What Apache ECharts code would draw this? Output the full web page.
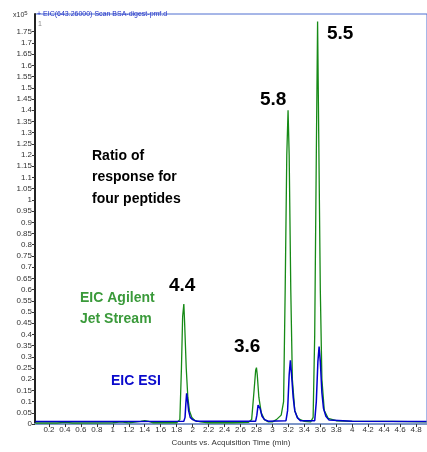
<!DOCTYPE html>
<html>
<head>
<meta charset="utf-8">
<script src="https://cdn.jsdelivr.net/npm/echarts@6/dist/echarts.min.js"></script>
<style>
html,body{margin:0;padding:0;background:#fff;}
#chart{width:427px;height:452px;}
</style>
</head>
<body>
<div id="chart"></div>
<script>
// Acquisition time (min) and counts (x10^5)
const jetTime = [0.03,0.30,0.40,0.50,1.00,1.10,1.20,1.35,1.40,1.45,1.50,1.80,1.84,1.86,1.875,1.89,1.90,1.92,1.94,1.96,1.99,2.03,2.10,2.20,2.50,2.70,2.74,2.77,2.79,2.80,2.81,2.83,2.86,2.90,2.95,3.00,3.05,3.08,3.11,3.14,3.16,3.18,3.196,3.21,3.23,3.25,3.28,3.32,3.40,3.48,3.51,3.53,3.55,3.566,3.58,3.60,3.62,3.65,3.70,3.80,4.00,4.50,4.93];
const jetCounts = [0.005,0.005,0.008,0.005,0.006,0.010,0.005,0.012,0.015,0.012,0.006,0.006,0.020,0.250,0.480,0.535,0.450,0.250,0.120,0.060,0.030,0.015,0.010,0.006,0.006,0.008,0.020,0.150,0.240,0.252,0.220,0.120,0.050,0.020,0.010,0.010,0.020,0.030,0.040,0.100,0.600,1.200,1.400,1.200,0.600,0.200,0.060,0.025,0.012,0.010,0.030,0.400,1.200,1.796,1.300,0.600,0.200,0.060,0.025,0.015,0.012,0.012,0.010];

const esiTime = [0.03,0.38,0.40,0.42,1.00,1.89,1.905,1.915,1.925,1.935,1.95,1.97,2.00,2.05,2.79,2.805,2.82,2.83,2.845,2.87,2.90,2.95,3.17,3.19,3.21,3.225,3.24,3.26,3.28,3.31,3.35,3.53,3.55,3.57,3.585,3.60,3.62,3.64,3.67,3.71,4.00,4.93];
const esiCounts = [0.012,0.012,0.020,0.012,0.012,0.013,0.030,0.090,0.137,0.110,0.060,0.030,0.020,0.013,0.013,0.040,0.085,0.092,0.070,0.035,0.020,0.013,0.015,0.060,0.220,0.285,0.220,0.120,0.060,0.030,0.015,0.015,0.100,0.280,0.346,0.280,0.140,0.070,0.035,0.018,0.013,0.012];

const yTicks = [0,0.05,0.1,0.15,0.2,0.25,0.3,0.35,0.4,0.45,0.5,0.55,0.6,0.65,0.7,0.75,0.8,0.85,0.9,0.95,1,1.05,1.1,1.15,1.2,1.25,1.3,1.35,1.4,1.45,1.5,1.55,1.6,1.65,1.7,1.75];
const xTicks = [0.2,0.4,0.6,0.8,1,1.2,1.4,1.6,1.8,2,2.2,2.4,2.6,2.8,3,3.2,3.4,3.6,3.8,4,4.2,4.4,4.6,4.8];

const zip = (a, b) => a.map((v, i) => [v, b[i]]);
const FONT = '"Liberation Sans", Arial, sans-serif';

const chart = echarts.init(document.getElementById('chart'), null, {renderer: 'canvas'});
chart.setOption({
  animation: false,
  backgroundColor: '#fff',
  grid: {left: 35, right: 0, top: 14, bottom: 17.5, show: true, borderColor: '#4f6fd0', borderWidth: 1},
  xAxis: {
    type: 'value', min: 0.025, max: 4.937,
    splitLine: {show: false},
    axisLine: {show: true, lineStyle: {color: '#7d96c8', width: 2}},
    axisTick: {show: true, length: 3, lineStyle: {color: '#333'}, customValues: xTicks},
    axisLabel: {customValues: xTicks, fontSize: 8, color: '#333', fontFamily: FONT, margin: 2},
    name: 'Counts vs. Acquisition Time (min)', nameLocation: 'middle', nameGap: 14,
    nameTextStyle: {fontSize: 8, color: '#333', fontFamily: FONT}
  },
  yAxis: {
    type: 'value', min: 0, max: 1.829,
    splitLine: {show: false},
    axisLine: {show: true, lineStyle: {color: '#222', width: 2}},
    axisTick: {show: true, length: 3, lineStyle: {color: '#333'}, customValues: yTicks},
    axisLabel: {customValues: yTicks, fontSize: 8, color: '#333', fontFamily: FONT, margin: 3},
  },
  series: [
    {type: 'line', name: 'EIC Agilent Jet Stream', data: zip(jetTime, jetCounts), showSymbol: false,
     lineStyle: {color: '#168a16', width: 1.3}, z: 2},
    {type: 'line', name: 'EIC ESI', data: zip(esiTime, esiCounts), showSymbol: false,
     lineStyle: {color: '#0000cc', width: 1.5}, z: 3}
  ],
  graphic: [
    {type: 'text', left: 13, top: 10, style: {text: 'x10{s|5}', rich: {s: {fontSize: 6, verticalAlign: 'top', padding: [0,0,4,0]}}, fontSize: 7, fill: '#333', fontFamily: FONT}},
    {type: 'text', left: 37, top: 11, style: {text: '+ EIC(643.26000) Scan BSA-digest-pmf.d', fontSize: 7, fill: '#2030c8', fontFamily: FONT}},
    {type: 'text', left: 38, top: 21, style: {text: '1', fontSize: 7, fill: '#888', fontFamily: FONT}},
    {type: 'text', left: 327, top: 24, style: {text: '5.5', fontSize: 19, fontWeight: 'bold', fill: '#000', fontFamily: FONT}},
    {type: 'text', left: 260, top: 90, style: {text: '5.8', fontSize: 19, fontWeight: 'bold', fill: '#000', fontFamily: FONT}},
    {type: 'text', left: 92, top: 145, style: {text: 'Ratio of\nresponse for\nfour peptides', lineHeight: 21.5, fontSize: 14, fontWeight: 'bold', fill: '#000', fontFamily: FONT}},
    {type: 'text', left: 169, top: 276, style: {text: '4.4', fontSize: 19, fontWeight: 'bold', fill: '#000', fontFamily: FONT}},
    {type: 'text', left: 234, top: 337, style: {text: '3.6', fontSize: 19, fontWeight: 'bold', fill: '#000', fontFamily: FONT}},
    {type: 'text', left: 80, top: 288, style: {text: 'EIC Agilent\nJet Stream', lineHeight: 21, fontSize: 14, fontWeight: 'bold', fill: '#3a9a3a', fontFamily: FONT}},
    {type: 'text', left: 111, top: 374, style: {text: 'EIC ESI', fontSize: 14, fontWeight: 'bold', fill: '#0a0acc', fontFamily: FONT}}
  ]
});
</script>
</body>
</html>
